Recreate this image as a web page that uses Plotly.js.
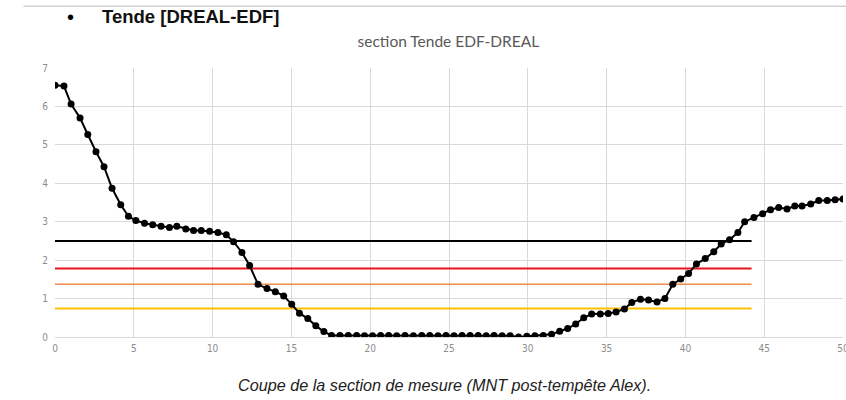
<!DOCTYPE html>
<html>
<head>
<meta charset="utf-8">
<script src="https://cdn.plot.ly/plotly-3.0.1.min.js"></script>
<style>
html,body{margin:0;padding:0;background:#fff;}
#chart{width:846px;height:400px;}
</style>
</head>
<body>
<div id="chart"></div>
<script>
// Section profile: distance (m) and elevation (m)
const distance = [0, 0.57, 1.02, 1.59, 2.08, 2.6, 3.11, 3.62, 4.17, 4.66,
  5.13, 5.68, 6.2, 6.73, 7.26, 7.73, 8.3, 8.79, 9.28, 9.81,
  10.34, 10.87, 11.33, 11.86, 12.35, 12.88, 13.45, 13.98, 14.51, 15.02,
  15.51, 16.04, 16.55, 17.06, 17.55, 18.08, 18.61, 19.14, 19.64, 20.15,
  20.66, 21.17, 21.68, 22.21, 22.74, 23.27, 23.78, 24.3, 24.81, 25.32,
  25.83, 26.34, 26.85, 27.36, 27.86, 28.37, 28.88, 29.41, 29.94, 30.45,
  30.98, 31.51, 32.02, 32.53, 33.04, 33.55, 34.05, 34.6, 35.1, 35.6,
  36.13, 36.6, 37.15, 37.66, 38.2, 38.7, 39.2, 39.7, 40.2, 40.7,
  41.26, 41.8, 42.27, 42.8, 43.33, 43.76, 44.35, 44.9, 45.4, 45.92,
  46.45, 46.94, 47.4, 47.95, 48.46, 49.0, 49.5, 50.0];
const elevation = [6.55, 6.53, 6.06, 5.70, 5.27, 4.82, 4.43, 3.87, 3.44, 3.14,
  3.03, 2.96, 2.92, 2.88, 2.85, 2.88, 2.81, 2.77, 2.77, 2.75,
  2.72, 2.66, 2.48, 2.20, 1.86, 1.37, 1.26, 1.18, 1.07, 0.85,
  0.62, 0.48, 0.29, 0.14, 0.04, 0.04, 0.04, 0.04, 0.03, 0.03,
  0.04, 0.04, 0.03, 0.04, 0.03, 0.04, 0.04, 0.03, 0.04, 0.03,
  0.04, 0.04, 0.04, 0.03, 0.04, 0.03, 0.03, 0.00, 0.02, 0.03,
  0.04, 0.07, 0.15, 0.22, 0.34, 0.50, 0.60, 0.60, 0.61, 0.65,
  0.73, 0.90, 0.98, 0.96, 0.91, 1.00, 1.37, 1.51, 1.65, 1.90,
  2.04, 2.22, 2.42, 2.53, 2.72, 3.00, 3.11, 3.21, 3.31, 3.37,
  3.33, 3.41, 3.41, 3.46, 3.55, 3.55, 3.57, 3.59];

// Horizontal threshold levels
const levelValues = [2.5, 1.78, 1.37, 0.74];
const levelColors = ['#000000', '#e8141b', '#f08a4b', '#ffc000'];
const levelWidths = [2, 2, 1.5, 2];
const levelStart = 0;
const levelEnd = 44.2;

const xTicks = [0, 5, 10, 15, 20, 25, 30, 35, 40, 45, 50];
const yTicks = [0, 1, 2, 3, 4, 5, 6, 7];

const traces = levelValues.map((v, i) => ({
  x: [levelStart, levelEnd],
  y: [v, v],
  mode: 'lines',
  line: {color: levelColors[i], width: levelWidths[i]},
  hoverinfo: 'skip',
  showlegend: false
}));

traces.push({
  x: distance,
  y: elevation,
  mode: 'lines+markers',
  line: {color: '#000000', width: 2},
  marker: {color: '#000000', size: 7},
  showlegend: false
});

const tickFont = {family: '"Liberation Sans Narrow", "DejaVu Sans Condensed", Arial, sans-serif', size: 10, color: '#8c8c8c'};

const layout = {
  width: 846,
  height: 400,
  margin: {l: 55, r: 3, t: 68, b: 63},
  paper_bgcolor: '#ffffff',
  plot_bgcolor: '#ffffff',
  showlegend: false,
  title: {
    text: 'section Tende EDF-DREAL',
    font: {family: 'Lato, "Open Sans", sans-serif', size: 15.5, color: '#595959'},
    x: 0.53, xanchor: 'center',
    y: 0.895, yanchor: 'middle'
  },
  xaxis: {
    range: [0, 50],
    tickvals: xTicks,
    ticktext: xTicks.map(String),
    showgrid: true,
    gridcolor: '#d9d9d9',
    gridwidth: 1,
    zeroline: false,
    showline: false,
    ticks: '',
    tickfont: tickFont,
    ticklabelstandoff: 4,
    ticklabeloverflow: 'allow'
  },
  yaxis: {
    range: [0, 7],
    tickvals: yTicks,
    ticktext: yTicks.map(String),
    showgrid: true,
    gridcolor: '#d9d9d9',
    gridwidth: 1,
    zeroline: true,
    zerolinecolor: '#d9d9d9',
    zerolinewidth: 1,
    showline: false,
    ticks: '',
    tickfont: tickFont,
    ticklabelstandoff: 6
  },
  shapes: [
    {type: 'line', xref: 'paper', yref: 'paper', x0: -0.04, x1: 1.004, y0: 1.23, y1: 1.23,
     line: {color: '#d0d0d0', width: 1.5}}
  ],
  annotations: [
    {text: '•', xref: 'paper', yref: 'paper', x: 0.02, y: 1.19, xanchor: 'center', yanchor: 'middle',
     showarrow: false, font: {family: 'Arial, "Liberation Sans", sans-serif', size: 20, color: '#000'}},
    {text: '<b>Tende [DREAL-EDF]</b>', xref: 'paper', yref: 'paper', x: 0.057, y: 1.19, xanchor: 'left', yanchor: 'middle',
     showarrow: false, font: {family: 'Arial, "Liberation Sans", sans-serif', size: 18.5, color: '#111'}},
    {text: '<i>Coupe de la section de mesure (MNT post-tempête Alex).</i>', xref: 'paper', yref: 'paper',
     x: 0.494, y: -0.18, xanchor: 'center', yanchor: 'middle', showarrow: false,
     font: {family: '"Liberation Sans Narrow", Arial, sans-serif', size: 16.2, color: '#222'}}
  ]
};

Plotly.newPlot('chart', traces, layout, {displayModeBar: false, staticPlot: true});
</script>
</body>
</html>
